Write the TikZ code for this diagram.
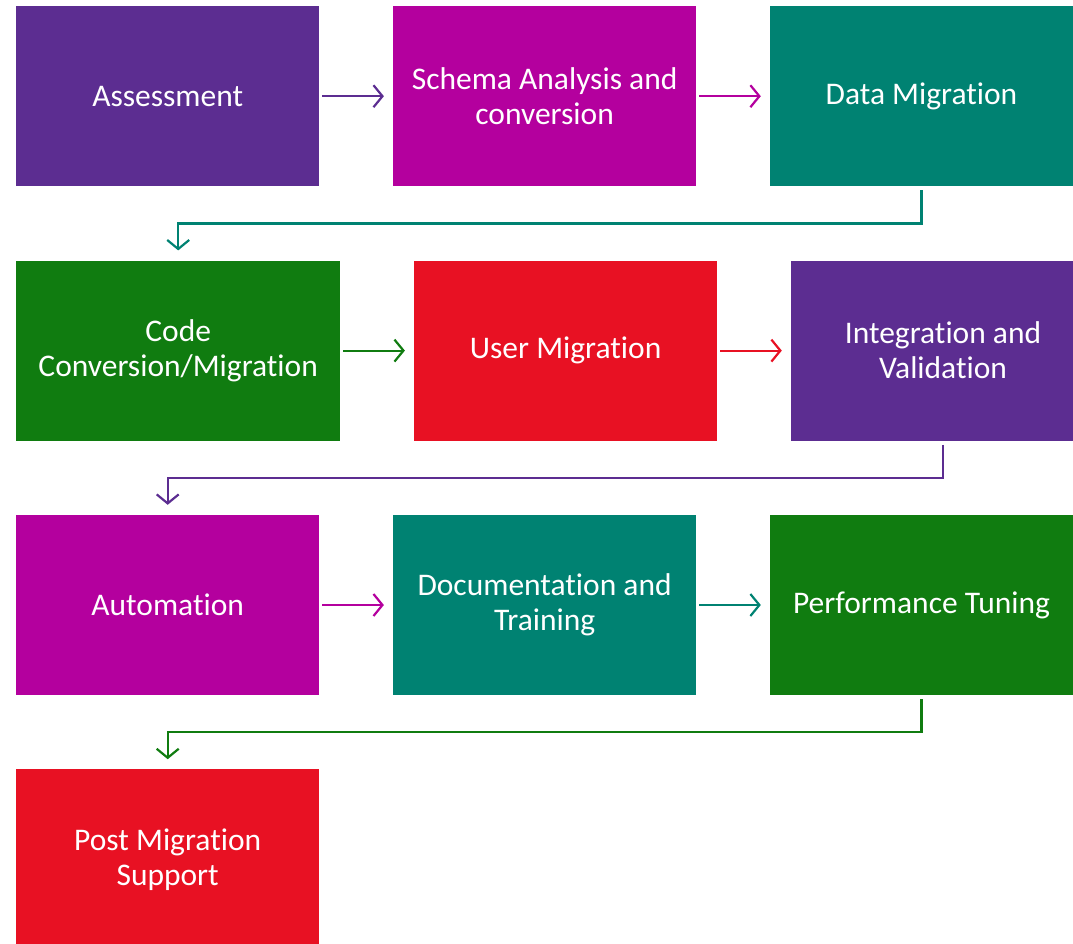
\documentclass[tikz,border=0pt]{standalone}
\usepackage{fontspec}
\setmainfont{Carlito}[Ligatures=NoCommon]
\usepackage{xcolor}
\usetikzlibrary{positioning, arrows.meta, calc}
\definecolor{mspurple}{HTML}{5C2D91}
\definecolor{msmagenta}{HTML}{B4009E}
\definecolor{msteal}{HTML}{008272}
\definecolor{msgreen}{HTML}{107C10}
\definecolor{msred}{HTML}{E81123}

\begin{document}
\begin{tikzpicture}[
  x=1pt, y=1pt,
  node distance=74pt and 73.5pt,
  stepbox/.style={rectangle, minimum width=303pt, minimum height=180pt,
              align=center, font=\fontsize{31.5}{35}\selectfont,
              text=white, inner sep=0pt},
  flow/.style={->, line width=2.2pt, shorten <=3pt, shorten >=9pt},
  >={Straight Barb[length=9pt, width=22pt]}
]
  \useasboundingbox (0,0) rectangle (1073,-943);

  % Row 1
  \node[stepbox, fill=mspurple, anchor=north west] (assess) at (16,-6)
    {Assessment};
  \node[stepbox, fill=msmagenta, right=of assess] (schema)
    {Schema Analysis and\\conversion};
  \node[stepbox, fill=msteal, right=of schema] (datamig) {Data Migration};
  \draw[flow, mspurple] (assess) -- (schema);
  \draw[flow, msmagenta] (schema) -- (datamig);

  % Row 2
  \node[stepbox, fill=msgreen, minimum width=324pt,
        below=of assess.south west, anchor=north west] (codeconv)
    {Code\\Conversion/Migration};
  \node[stepbox, fill=msred, right=of codeconv] (usermig)
    {User Migration};
  \node[stepbox, fill=mspurple, minimum width=304pt, right=of usermig]
    (integ) {Integration and\\Validation};
  \draw[flow, msgreen] (codeconv) -- (usermig);
  \draw[flow, msred] (usermig) -- (integ);
  \draw[flow, msteal, shorten <=4pt, shorten >=10pt]
    (datamig.south) -- ++(0,-37) -| (codeconv.north);

  % Row 3
  \node[stepbox, fill=msmagenta, below=of codeconv.south west,
        anchor=north west] (auto) {Automation};
  \node[stepbox, fill=msteal, right=of auto] (docs)
    {Documentation and\\Training};
  \node[stepbox, fill=msgreen, right=of docs] (perf) {Performance Tuning};
  \draw[flow, msmagenta] (auto) -- (docs);
  \draw[flow, msteal] (docs) -- (perf);
  \draw[flow, mspurple, shorten <=4pt, shorten >=10pt]
    (integ.south) -- ++(0,-37) -| (auto.north);

  % Row 4
  \node[stepbox, fill=msred, below=of auto] (support)
    {Post Migration\\Support};
  \draw[flow, msgreen, shorten <=4pt, shorten >=10pt]
    (perf.south) -- ++(0,-37) -| (support.north);
\end{tikzpicture}
\end{document}
